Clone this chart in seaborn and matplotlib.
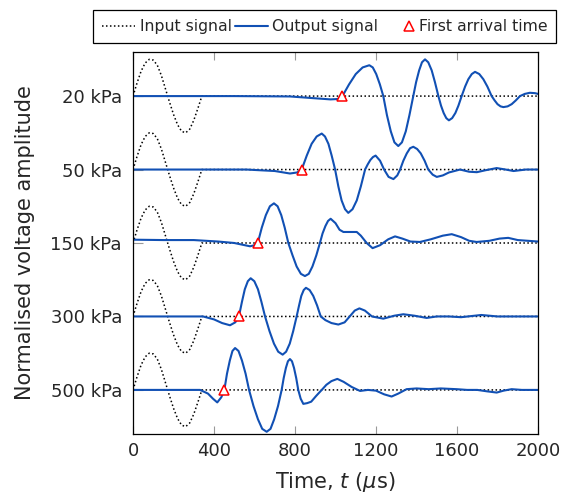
# first_arrival.py
# Stacked input/output ultrasonic signals for different confining pressures,
# with the picked first arrival time marked on each output trace.

import matplotlib
matplotlib.use("Agg")
import matplotlib.pyplot as plt
from matplotlib.lines import Line2D
from matplotlib.legend_handler import HandlerBase
import seaborn as sns

# labels and picked first arrival times (us)
pressures = ["20 kPa", "50 kPa", "150 kPa", "300 kPa", "500 kPa"]
arrival_times = [1034, 833, 616, 523, 451]

# input signal (same for every trace)
input_t = [0, 20, 40, 60, 80, 100, 120, 140, 160, 180, 200, 220, 240, 260,
           280, 300, 320, 340, 2000]
input_v = [0, 0.18, 0.34, 0.45, 0.50, 0.49, 0.42, 0.28, 0.10, -0.08, -0.25,
           -0.39, -0.48, -0.50, -0.45, -0.33, -0.17, 0.0, 0.0]

# output signals
out_20_t = [0, 500, 775, 900, 975, 1010, 1034, 1067, 1100, 1134, 1167, 1184,
            1201, 1219, 1236, 1254, 1273, 1291, 1310, 1328, 1347, 1365, 1384,
            1398, 1413, 1427, 1442, 1458, 1475, 1491, 1508, 1521, 1534, 1547,
            1560, 1576, 1592, 1607, 1623, 1640, 1656, 1673, 1689, 1710, 1730,
            1750, 1771, 1786, 1800, 1815, 1829, 1850, 1870, 1890, 1911, 1935,
            1960, 1985, 2000]
out_20_v = [0, 0, -0.005, -0.03, -0.045, -0.04, 0.0, 0.16, 0.30, 0.39, 0.42,
            0.39, 0.30, 0.16, 0.0, -0.26, -0.48, -0.63, -0.68, -0.63, -0.48,
            -0.26, 0.0, 0.19, 0.35, 0.46, 0.50, 0.46, 0.35, 0.19, 0.0, -0.13,
            -0.23, -0.30, -0.33, -0.30, -0.23, -0.13, 0.0, 0.13, 0.23, 0.30,
            0.33, 0.30, 0.23, 0.13, 0.0, -0.06, -0.11, -0.14, -0.15, -0.14,
            -0.11, -0.06, 0.0, 0.03, 0.045, 0.04, 0.03]

out_50_t = [0, 560, 700, 775, 810, 833, 858, 882, 907, 932, 948, 965, 981,
            998, 1014, 1030, 1047, 1063, 1084, 1105, 1125, 1146, 1159, 1172,
            1185, 1198, 1220, 1240, 1262, 1286, 1305, 1319, 1335, 1352, 1368,
            1384, 1403, 1421, 1440, 1458, 1480, 1500, 1530, 1560, 1615, 1660,
            1698, 1740, 1796, 1840, 1879, 1940, 2000]
out_50_v = [0, 0, -0.02, -0.054, -0.04, 0.0, 0.19, 0.35, 0.45, 0.49, 0.45,
            0.35, 0.19, 0.0, -0.23, -0.42, -0.54, -0.59, -0.54, -0.42, -0.23,
            0.0, 0.07, 0.13, 0.17, 0.19, 0.12, 0.0, -0.10, -0.13, -0.08, 0.0,
            0.12, 0.22, 0.29, 0.31, 0.28, 0.22, 0.12, 0.0, -0.07, -0.10,
            -0.08, -0.04, 0.0, -0.03, -0.036, -0.01, 0.02, 0.0, -0.02, 0.0,
            0.0]

out_150_t = [0, 150, 300, 420, 500, 578, 600, 616, 636, 656, 676, 696, 714,
             732, 749, 767, 788, 808, 829, 849, 868, 886, 905, 923, 936, 950,
             963, 976, 1000, 1020, 1039, 1070, 1105, 1125, 1154, 1183, 1220,
             1260, 1294, 1330, 1370, 1417, 1470, 1530, 1574, 1620, 1660, 1697,
             1760, 1810, 1853, 1900, 1950, 2000]
out_150_v = [0.045, 0.04, 0.04, 0.02, 0.0, -0.045, -0.03, 0.0, 0.21, 0.38,
             0.50, 0.54, 0.50, 0.38, 0.21, 0.0, -0.17, -0.32, -0.42, -0.45,
             -0.42, -0.32, -0.17, 0.0, 0.13, 0.23, 0.30, 0.33, 0.27, 0.18,
             0.15, 0.15, 0.15, 0.10, 0.0, -0.07, -0.03, 0.05, 0.09, 0.06,
             0.02, 0.014, 0.05, 0.10, 0.12, 0.08, 0.03, 0.014, 0.03, 0.06,
             0.07, 0.04, 0.03, 0.02]

out_300_t = [0, 346, 400, 440, 479, 505, 523, 538, 552, 567, 581, 599, 617,
             634, 652, 674, 696, 717, 739, 756, 774, 791, 808, 820, 831, 843,
             854, 872, 890, 909, 927, 950, 980, 1014, 1045, 1070, 1095, 1118,
             1145, 1180, 1236, 1290, 1335, 1390, 1450, 1500, 1560, 1620, 1720,
             1800, 1900, 2000]
out_300_v = [0, 0, -0.04, -0.09, -0.12, -0.08, 0.0, 0.20, 0.37, 0.48, 0.52,
             0.48, 0.37, 0.20, 0.0, -0.20, -0.37, -0.48, -0.52, -0.48, -0.37,
             -0.20, 0.0, 0.15, 0.28, 0.36, 0.39, 0.36, 0.28, 0.15, 0.0, -0.05,
             -0.09, -0.11, -0.08, 0.0, 0.08, 0.11, 0.08, 0.0, -0.03, 0.01,
             0.03, 0.01, -0.02, 0.0, 0.0, -0.01, 0.02, 0.0, 0.0, 0.0]

out_500_t = [0, 331, 370, 395, 416, 436, 451, 464, 478, 491, 504, 521, 538,
             556, 573, 595, 617, 638, 660, 679, 697, 716, 734, 744, 755, 765,
             775, 785, 795, 806, 816, 828, 841, 860, 880, 905, 932, 955, 980,
             1009, 1040, 1080, 1121, 1160, 1200, 1240, 1277, 1310, 1351, 1400,
             1460, 1520, 1598, 1650, 1700, 1750, 1796, 1830, 1870, 1920, 2000]
out_500_v = [0, 0, -0.05, -0.12, -0.17, -0.10, 0.0, 0.22, 0.40, 0.53, 0.57,
             0.53, 0.40, 0.22, 0.0, -0.22, -0.40, -0.53, -0.57, -0.53, -0.40,
             -0.22, 0.0, 0.16, 0.30, 0.39, 0.42, 0.39, 0.30, 0.16, 0.0, -0.12,
             -0.19, -0.18, -0.16, -0.08, 0.0, 0.07, 0.12, 0.15, 0.11, 0.04,
             -0.014, 0.0, -0.01, -0.06, -0.09, -0.05, 0.01, 0.02, 0.01, 0.02,
             0.01, 0.0, 0.0, -0.02, -0.036, -0.01, 0.01, 0.0, 0.0]

outputs = [(out_20_t, out_20_v), (out_50_t, out_50_v), (out_150_t, out_150_v),
           (out_300_t, out_300_v), (out_500_t, out_500_v)]

BLUE = "#1150b4"
FS = 13


class RightMarkerHandler(HandlerBase):
    # draws the legend marker at the right end of the handle box, next to the text
    def create_artists(self, legend, orig_handle, xdescent, ydescent, width,
                       height, fontsize, trans):
        m = Line2D([width - xdescent - 0.35 * fontsize],
                   [0.5 * height - ydescent])
        m.update_from(orig_handle)
        m.set_transform(trans)
        return [m]


def plot_traces():
    sns.set_style("ticks")
    plt.rcParams["font.family"] = ["DejaVu Sans"]
    plt.rcParams["mathtext.fontset"] = "dejavusans"

    fig = plt.figure(figsize=(5.62, 4.93), dpi=100)
    ax = fig.add_axes([0.2367, 0.1197, 0.7206, 0.7748])

    n = len(pressures)
    offsets = [n - 1 - i for i in range(n)]

    for (t, v), off, t_arr in zip(outputs, offsets, arrival_times):
        sns.lineplot(x=input_t, y=[val + off for val in input_v], ax=ax,
                     color="black", linestyle=(0, (1, 1.6)), linewidth=1.1)
        sns.lineplot(x=t, y=[val + off for val in v], ax=ax,
                     color=BLUE, linewidth=1.5, solid_joinstyle="round")
        ax.plot([t_arr], [off], marker="^", markersize=7, markerfacecolor="white",
                markeredgecolor="red", markeredgewidth=1.1, linestyle="none",
                zorder=5)

    ax.set_xlim(0, 2000)
    ax.set_ylim(-0.6, n - 0.4)
    ax.set_xticks([0, 400, 800, 1200, 1600, 2000])
    ax.set_yticks(offsets)
    ax.set_yticklabels(pressures)
    ax.tick_params(axis="x", direction="in", top=True, length=6, width=0.8,
                   color="#999999", labelsize=FS, pad=6)
    ax.tick_params(axis="y", direction="in", length=7, width=0.8,
                   color="#999999", labelsize=FS, pad=8)
    for s in ax.spines.values():
        s.set_color("black")
        s.set_linewidth(0.9)

    ax.set_xlabel(r"Time, $t$ ($\mu$s)", fontsize=15, labelpad=7)
    ax.set_ylabel("Normalised voltage amplitude", fontsize=15, labelpad=11)

    tri = Line2D([], [], color="red", marker="^", markerfacecolor="white",
                 markeredgewidth=1.1, markersize=7, linestyle="none")
    handles = [
        Line2D([], [], color="black", linestyle=(0, (1, 1.6)), linewidth=1.1),
        Line2D([], [], color=BLUE, linewidth=1.5),
        tri,
    ]
    labels = ["Input signal", "Output signal", "First arrival time"]
    leg = fig.legend(handles, labels, loc="center", ncol=3,
                     bbox_to_anchor=(0.578, 0.946), fontsize=11.3,
                     handlelength=2.1, handletextpad=0.3, columnspacing=0.2,
                     borderpad=0.55, fancybox=False, framealpha=1,
                     handler_map={tri: RightMarkerHandler()})
    leg.get_frame().set_edgecolor("black")
    leg.get_frame().set_linewidth(0.9)

    fig.savefig("out.png", dpi=100)


if __name__ == "__main__":
    plot_traces()
